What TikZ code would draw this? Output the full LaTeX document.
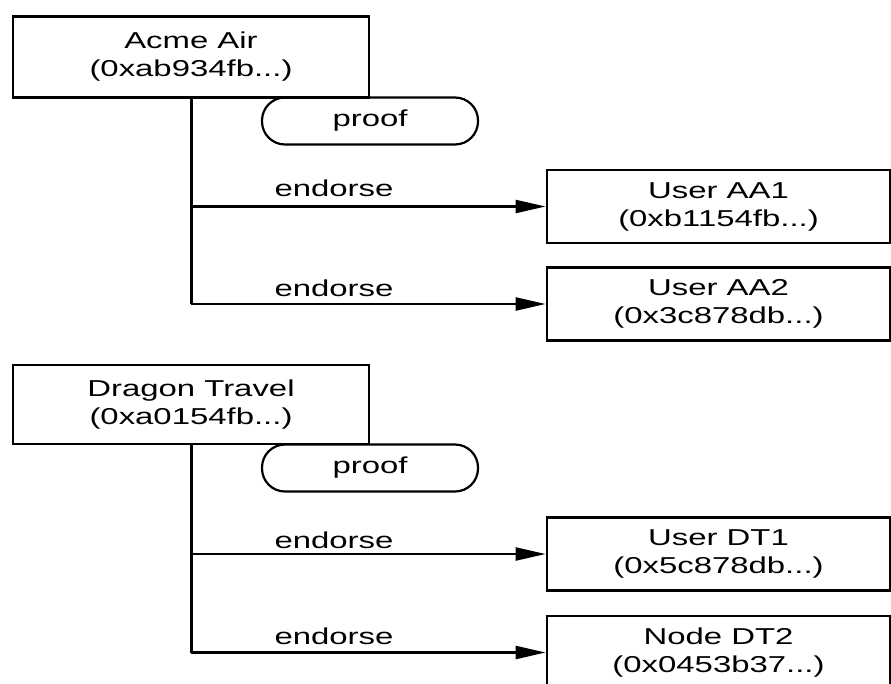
\documentclass[tikz,border=0pt]{standalone}
\usepackage{fontspec}
\setmainfont[FakeStretch=1.43]{Liberation Sans}
\usetikzlibrary{arrows.meta}
\begin{document}
\begin{tikzpicture}[x=1pt,y=-1pt,
  every node/.style={font=\fontsize{23}{28}\selectfont},
  entity/.style={draw,line width=2.8pt,rectangle,align=center,inner sep=0pt},
  proofbox/.style={draw,line width=2.2pt,rectangle,rounded corners=23pt,minimum width=216pt,minimum height=47pt,inner sep=0pt},
  link/.style={line width=2.3pt,-{Triangle[length=30pt,width=13pt]}},
  stem/.style={line width=3pt},
  lbl/.style={inner sep=0pt}]
\useasboundingbox (0,0) rectangle (891,683);
% Acme Air group
\node[entity,minimum width=356pt,minimum height=81pt] (acme) at (191,57) {Acme Air\\(0xab934fb...)};
\node[proofbox] (proof1) at (370,121) {proof};
\node[entity,minimum width=343pt,minimum height=73pt] (aa1) at (718.5,206.5) {User AA1\\(0xb1154fb...)};
\node[entity,minimum width=343pt,minimum height=73pt] (aa2) at (718.5,304) {User AA2\\(0x3c878db...)};
\coordinate (s1) at (acme.south);
\draw[stem] (s1) -- (s1 |- aa2);
\draw[link] (s1 |- aa1) -- (aa1.west);
\draw[link] (s1 |- aa2) -- (aa2.west);
\node[lbl] (e1) at (334,188) {endorse};
\node[lbl] (e2) at (334,288) {endorse};
% Dragon Travel group
\node[entity,minimum width=356pt,minimum height=79pt] (dragon) at (191,404.5) {Dragon Travel\\(0xa0154fb...)};
\node[proofbox] (proof2) at (370,468) {proof};
\node[entity,minimum width=343pt,minimum height=73pt] (dt1) at (718.5,554) {User DT1\\(0x5c878db...)};
\node[entity,minimum width=343pt,minimum height=73pt] (dt2) at (718.5,652.5) {Node DT2\\(0x0453b37...)};
\coordinate (s2) at (dragon.south);
\draw[stem] (s2) -- (s2 |- dt2);
\draw[link] (s2 |- dt1) -- (dt1.west);
\draw[link] (s2 |- dt2) -- (dt2.west);
\node[lbl] (e3) at (334,540) {endorse};
\node[lbl] (e4) at (334,636) {endorse};
\end{tikzpicture}
\end{document}
